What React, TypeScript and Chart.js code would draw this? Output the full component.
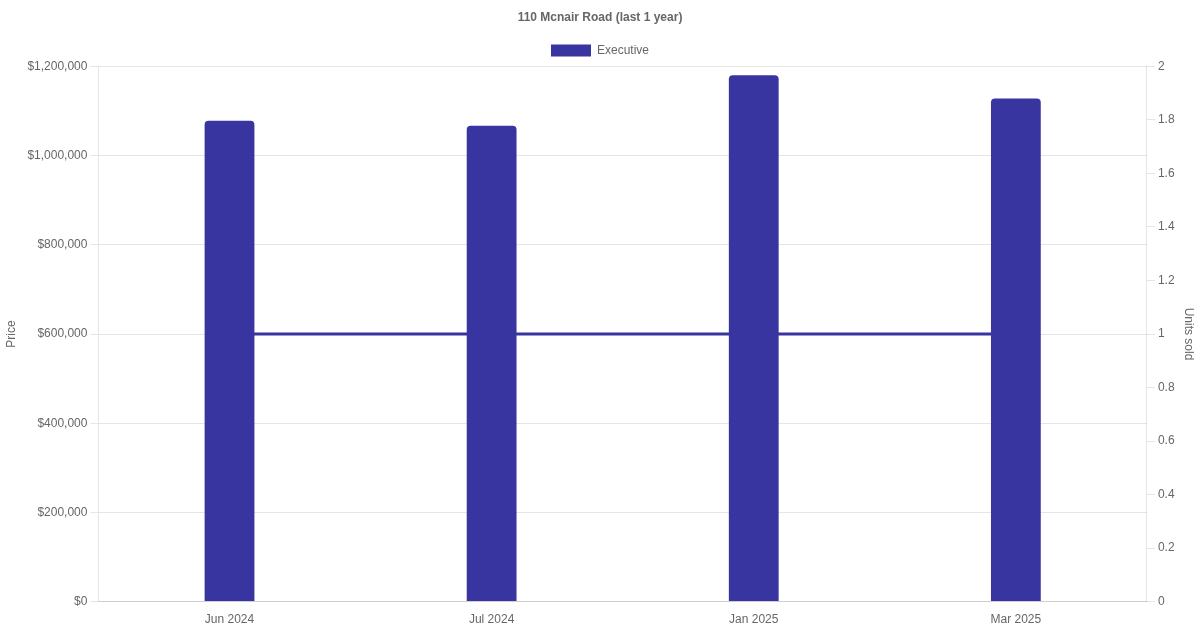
import { useEffect, useRef } from "react"
import { Chart, registerables } from "chart.js"

Chart.register(...registerables)

const months = ["Jun 2024", "Jul 2024", "Jan 2025", "Mar 2025"]
const executivePrices = [1078000, 1067000, 1180000, 1128000]
const unitsSold = [1, 1, 1, 1]

const barColor = "#3834a0"

export default function App() {
  const chartRef = useRef<HTMLCanvasElement>(null)
  const chartInstance = useRef<Chart | null>(null)

  useEffect(() => {
    if (!chartRef.current) return
    document.body.style.margin = "0"

    if (chartInstance.current) {
      chartInstance.current.destroy()
    }

    Chart.defaults.font.family = "'Liberation Sans', Arial, sans-serif"
    Chart.defaults.color = "#666"

    const ctx = chartRef.current.getContext("2d")
    if (ctx) {
      chartInstance.current = new Chart(ctx, {
        type: "bar",
        data: {
          labels: months,
          datasets: [
            {
              type: "bar",
              label: "Executive",
              data: executivePrices,
              backgroundColor: barColor,
              borderColor: barColor,
              borderWidth: 0,
              borderRadius: 4,
              borderSkipped: "bottom",
              barPercentage: 0.19,
              categoryPercentage: 1,
              yAxisID: "y",
            },
            {
              type: "line",
              label: "Units sold",
              data: unitsSold,
              borderColor: barColor,
              backgroundColor: barColor,
              borderWidth: 3,
              pointRadius: 0,
              fill: false,
              yAxisID: "y1",
            },
          ],
        },
        options: {
          responsive: true,
          maintainAspectRatio: false,
          animation: false,
          plugins: {
            title: {
              display: true,
              text: "110 Mcnair Road (last 1 year)",
              font: { size: 12, weight: "bold" },
              padding: { top: 10, bottom: 10 },
            },
            legend: {
              position: "top",
              labels: {
                filter: (item) => item.text === "Executive",
              },
            },
            tooltip: { enabled: false },
          },
          scales: {
            x: {
              grid: { display: false },
              ticks: { font: { size: 12 } },
            },
            y: {
              position: "left",
              min: 0,
              max: 1200000,
              ticks: {
                stepSize: 200000,
                callback: (value) => "$" + Number(value).toLocaleString("en-US"),
              },
              title: { display: true, text: "Price" },
              afterFit: (scale) => {
                scale.width += 2
              },
            },
            y1: {
              position: "right",
              min: 0,
              max: 2,
              ticks: {
                stepSize: 0.2,
                callback: (value) => String(Math.round(Number(value) * 10) / 10),
              },
              grid: { drawOnChartArea: false },
              title: { display: true, text: "Units sold" },
            },
          },
        },
      })
    }

    return () => {
      if (chartInstance.current) {
        chartInstance.current.destroy()
      }
    }
  }, [])

  return (
    <div style={{ width: 1200, height: 630 }}>
      <canvas ref={chartRef} />
    </div>
  )
}
